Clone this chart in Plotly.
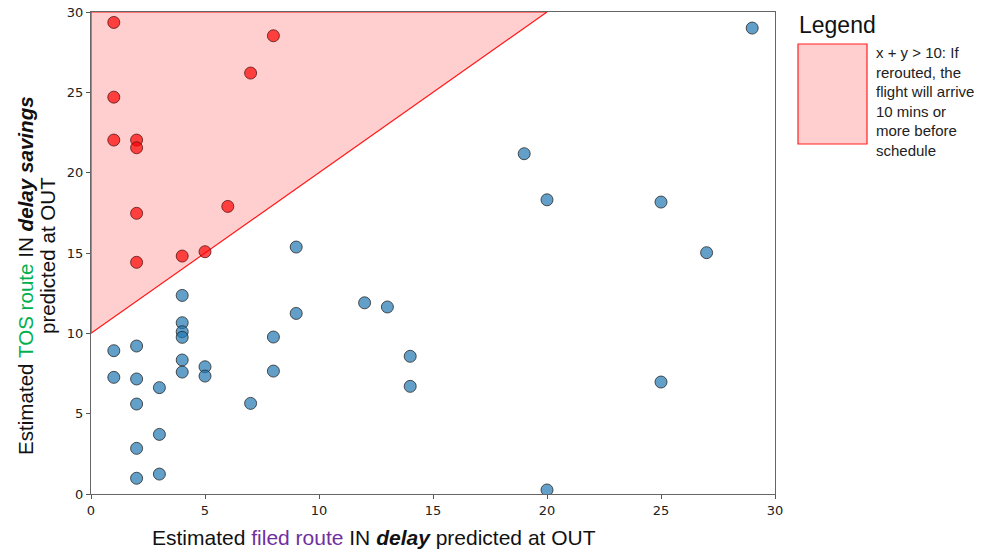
import plotly.graph_objects as go

# Data
red_x = [1, 1, 1, 2, 2, 2, 2, 4, 5, 6, 7, 8]
red_y = [29.35, 24.7, 22.03, 22.03, 21.55, 17.47, 14.42, 14.81, 15.08, 17.9, 26.2, 28.52]

blue_x = [1, 1, 2, 2, 2, 2, 2, 3, 3, 3, 4, 4, 4, 4, 4, 4, 5, 5, 7, 8, 8, 9, 9,
          12, 13, 14, 14, 19, 20, 20, 25, 25, 27, 29]
blue_y = [8.92, 7.26, 9.21, 7.16, 5.6, 2.84, 0.98, 6.62, 3.71, 1.24, 12.36, 10.66,
          10.1, 9.75, 8.34, 7.59, 7.92, 7.34, 5.64, 9.77, 7.65, 15.37, 11.24,
          11.9, 11.64, 8.57, 6.7, 21.18, 18.31, 0.25, 18.17, 6.97, 15.02, 29.0]

# region boundary: y > x + threshold
threshold = 10
axis_max = 30
region_x = [0, axis_max - threshold, 0, 0]
region_y = [threshold, axis_max, axis_max, threshold]

x_ticks = [0, 5, 10, 15, 20, 25, 30]
y_ticks = [0, 5, 10, 15, 20, 25, 30]

legend_title = "Legend"
legend_text = "x + y > 10: If<br>rerouted, the<br>flight will arrive<br>10 mins or<br>more before<br>schedule"

fig = go.Figure()

fig.add_trace(go.Scatter(
    x=region_x, y=region_y, mode="lines", fill="toself",
    fillcolor="rgba(255,0,0,0.19)", line=dict(color="#ff1a1a", width=1.2),
    hoverinfo="skip", showlegend=False))

fig.add_trace(go.Scatter(
    x=blue_x, y=blue_y, mode="markers",
    marker=dict(size=12, color="rgba(31,119,180,0.7)",
                line=dict(color="rgba(40,40,40,0.8)", width=1)),
    showlegend=False))

fig.add_trace(go.Scatter(
    x=red_x, y=red_y, mode="markers",
    marker=dict(size=12, color="rgba(255,0,0,0.7)",
                line=dict(color="rgba(90,20,20,0.8)", width=1)),
    showlegend=False))

# page body margin is removed by the post script, so the figure fills the window
W, H = 982, 553
L, R, T, B = 91, 207, 12, 59
pw = W - L - R
ph = H - T - B

def px_x(px):
    return (px - L) / pw

def px_y(py):
    return (H - B - py) / ph

tickfont = dict(family="DejaVu Sans", size=13, color="#222")
axis_style = dict(range=[0, 30], ticks="outside", ticklen=4,
                  tickcolor="#555", showgrid=False, zeroline=False,
                  showline=True, linecolor="#666", linewidth=1.2, mirror=True,
                  tickfont=tickfont, automargin=False, ticklabeloverflow="allow")
fig.update_xaxes(tickvals=x_ticks, **axis_style)
fig.update_yaxes(tickvals=y_ticks, **axis_style)

title_font = dict(family="Liberation Sans, Arial", size=21, color="#111")
ytitle_font = dict(family="Liberation Sans, Arial", size=20.6, color="#111")
annotations = [
    dict(text="Estimated <span style='color:#7030a0'>filed route</span> IN <b><i>delay</i></b> predicted at OUT",
         xref="paper", yref="paper", x=px_x(374), y=px_y(537),
         xanchor="center", yanchor="middle", showarrow=False, font=title_font),
    dict(text="Estimated <span style='color:#00b050'>TOS route</span> IN <b><i>delay savings</i></b>",
         xref="paper", yref="paper", x=px_x(25), y=px_y(276), textangle=-90,
         xanchor="center", yanchor="middle", showarrow=False, font=ytitle_font),
    dict(text="predicted at OUT",
         xref="paper", yref="paper", x=px_x(47), y=px_y(256), textangle=-90,
         xanchor="center", yanchor="middle", showarrow=False, font=ytitle_font),
    dict(text=legend_title, xref="paper", yref="paper", x=px_x(797), y=px_y(25),
         xanchor="left", yanchor="middle", showarrow=False,
         font=dict(family="Liberation Sans, Arial", size=23, color="#111")),
    dict(text=legend_text, xref="paper", yref="paper", x=px_x(874), y=px_y(42),
         xanchor="left", yanchor="top", align="left", showarrow=False,
         font=dict(family="Liberation Sans, Arial", size=15, color="#222")),
]

shapes = [
    dict(type="rect", xref="paper", yref="paper",
         x0=px_x(798), x1=px_x(867), y0=px_y(144), y1=px_y(44),
         fillcolor="rgba(255,0,0,0.19)", line=dict(color="#ff2020", width=1.2)),
]

fig.update_layout(
    width=W, height=H,
    margin=dict(l=L, r=R, t=T, b=B),
    plot_bgcolor="white", paper_bgcolor="white",
    annotations=annotations, shapes=shapes,
)

fig.write_html("out.html",
               config={"displayModeBar": False},
               post_script="document.body.style.margin='0';document.body.style.overflow='hidden';")
